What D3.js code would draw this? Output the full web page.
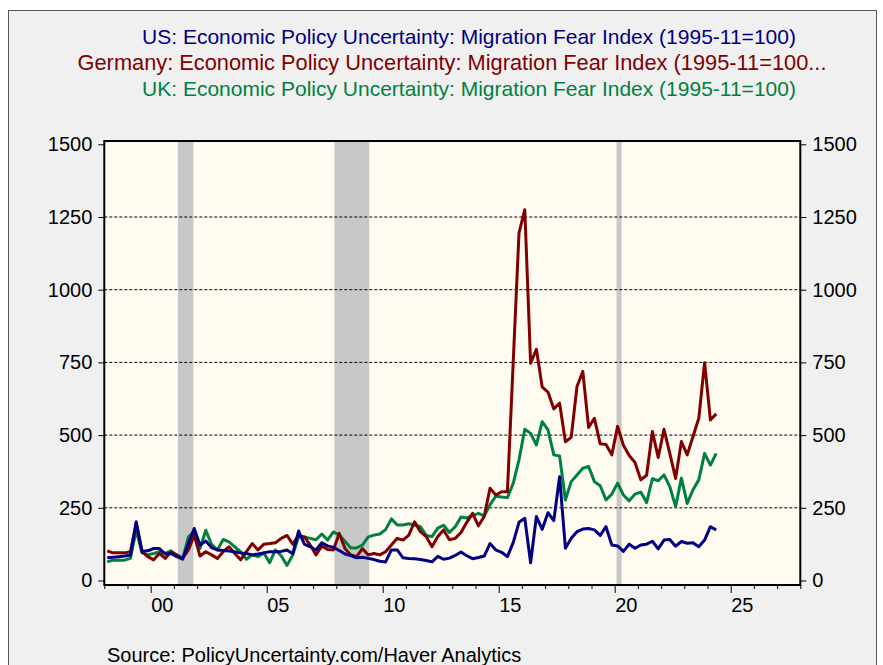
<!DOCTYPE html>
<html>
<head>
<meta charset="utf-8">
<script src="https://cdn.jsdelivr.net/npm/d3@7"></script>
<style>
  body { margin: 0; background: #ffffff; }
  svg { display: block; }
</style>
</head>
<body>
<script>
const [svgWidth, svgHeight] = [883, 665]

// quarterly data, 1998Q1 .. 2024Q2
const firstYear = 1998
const usValues = [
  78, 80, 82, 84, 87, 202, 101, 102, 110, 110, 91, 93, 82, 74, 127, 179,
  122, 136, 113, 105, 103, 101, 99, 95, 93, 88, 91, 95, 99, 99, 100, 105,
  92, 170, 125, 116, 105, 130, 119, 114, 103, 91, 86, 78, 80, 76, 72, 66,
  64, 105, 105, 78, 76, 75, 72, 69, 64, 83, 73, 77, 86, 98, 85, 75,
  79, 84, 127, 105, 97, 82, 130, 200, 214, 61, 220, 176, 233, 206, 357, 111,
  145, 168, 177, 179, 174, 155, 185, 122, 119, 100, 125, 111, 122, 125, 135, 109,
  139, 141, 118, 134, 128, 130, 116, 139, 185, 174
]
const germanyValues = [
  102, 95, 95, 95, 99, 195, 99, 82, 71, 93, 76, 99, 88, 76, 105, 156,
  84, 99, 88, 76, 99, 116, 93, 71, 99, 127, 105, 125, 127, 130, 145, 155,
  125, 155, 150, 122, 88, 118, 107, 105, 162, 110, 88, 82, 110, 88, 93, 88,
  99, 122, 145, 139, 156, 202, 168, 151, 116, 151, 174, 140, 145, 165, 200, 231,
  188, 220, 317, 294, 305, 305, 750, 1195, 1275, 747, 795, 665, 648, 590, 610, 477,
  492, 667, 719, 526, 558, 470, 468, 432, 530, 465, 430, 406, 346, 362, 512, 423,
  520, 437, 351, 478, 432, 495, 558, 749, 552, 573
]
const ukValues = [
  64, 70, 70, 70, 76, 173, 95, 88, 93, 99, 93, 102, 84, 73, 150, 168,
  110, 173, 124, 105, 141, 133, 116, 99, 73, 88, 82, 95, 61, 105, 85, 52,
  88, 150, 150, 145, 140, 160, 139, 167, 156, 135, 112, 112, 122, 150, 156, 160,
  175, 212, 191, 191, 195, 191, 185, 155, 151, 180, 190, 165, 185, 218, 215, 223,
  231, 222, 260, 290, 287, 285, 334, 415, 520, 506, 466, 546, 518, 432, 428, 277,
  340, 363, 386, 392, 340, 326, 277, 297, 335, 294, 274, 297, 304, 268, 350, 343,
  363, 323, 254, 352, 265, 312, 346, 437, 397, 437
]

// recessions (start, end in decimal years)
const recessions = [[2001.17, 2001.84], [2007.92, 2009.42], [2020.08, 2020.3]]

const yTicks = [0, 250, 500, 750, 1000, 1250, 1500]
const xMajor = [2000, 2005, 2010, 2015, 2020, 2025]
const xLabels = ["00", "05", "10", "15", "20", "25"]

const titles = [
  { text: "US: Economic Policy Uncertainty: Migration Fear Index (1995-11=100)", color: "#000080", cx: 469 },
  { text: "Germany: Economic Policy Uncertainty: Migration Fear Index (1995-11=100...", color: "#800000", cx: 452 },
  { text: "UK: Economic Policy Uncertainty: Migration Fear Index (1995-11=100)", color: "#008040", cx: 469 }
]

const frame = { left: 104.3, right: 800.3, top: 141, bottom: 585 }
const font = "'Liberation Sans', Arial, sans-serif"

const x = d3.scaleLinear().domain([1998, 2028]).range([frame.left, frame.right])
const y = d3.scaleLinear().domain([0, 1500]).range([580.5, 144.3])

const svg = d3.select('body')
  .append('svg')
  .attr("width", svgWidth)
  .attr("height", svgHeight)

// panel background
svg.append("rect")
  .attr("x", 8.5).attr("y", 10.5)
  .attr("width", 868).attr("height", svgHeight)
  .attr("fill", "#f0f0f0")
  .attr("stroke", "#555")

// titles
svg.selectAll("text.title")
  .data(titles)
  .enter()
  .append("text")
    .attr("class", "title")
    .attr("x", d => d.cx)
    .attr("y", (d, i) => 44 + i * 26)
    .attr("text-anchor", "middle")
    .attr("font-family", font)
    .attr("font-size", (d, i) => i === 1 ? "21.8px" : "21px")
    .attr("fill", d => d.color)
    .text(d => d.text)

// plot area
svg.append("rect")
  .attr("x", frame.left).attr("y", frame.top)
  .attr("width", frame.right - frame.left)
  .attr("height", frame.bottom - frame.top)
  .attr("fill", "#fffbf0")

// recession shading
svg.selectAll("rect.rec")
  .data(recessions)
  .enter()
  .append("rect")
    .attr("class", "rec")
    .attr("x", d => x(d[0]))
    .attr("y", frame.top)
    .attr("width", d => x(d[1]) - x(d[0]))
    .attr("height", frame.bottom - frame.top)
    .attr("fill", "#c8c8c8")

// dashed grid
svg.selectAll("line.grid")
  .data(yTicks.filter(d => d > 0 && d < 1500))
  .enter()
  .append("line")
    .attr("class", "grid")
    .attr("x1", frame.left).attr("x2", frame.right)
    .attr("y1", d => y(d)).attr("y2", d => y(d))
    .attr("stroke", "#000")
    .attr("stroke-width", 1)
    .attr("stroke-dasharray", "3,2")

// series lines
const series = [
  { values: ukValues, color: "#008040" },
  { values: germanyValues, color: "#800000" },
  { values: usValues, color: "#000080" }
]
const line = d3.line()
  .x((d, i) => x(firstYear + (i + 0.5) / 4))
  .y(d => y(d))

svg.selectAll("path.series")
  .data(series)
  .enter()
  .append("path")
    .attr("class", "series")
    .attr("d", d => line(d.values))
    .attr("fill", "none")
    .attr("stroke", d => d.color)
    .attr("stroke-width", 3)
    .attr("stroke-linejoin", "round")

// frame
svg.append("rect")
  .attr("x", frame.left).attr("y", frame.top)
  .attr("width", frame.right - frame.left)
  .attr("height", frame.bottom - frame.top)
  .attr("fill", "none")
  .attr("stroke", "#000")
  .attr("stroke-width", 2)

// y axes, left and right
const yLeft = svg.append("g")
  .attr("transform", `translate(${frame.left},0)`)
  .call(d3.axisLeft(y).tickValues(yTicks).tickSize(6).tickPadding(6).tickFormat(d3.format("d")))
const yRight = svg.append("g")
  .attr("transform", `translate(${frame.right},0)`)
  .call(d3.axisRight(y).tickValues(yTicks).tickSize(6).tickPadding(6).tickFormat(d3.format("d")))

// x axis: yearly minor ticks, labels centred in the year
const xAxis = svg.append("g")
  .attr("transform", `translate(0,${frame.bottom})`)
  .call(d3.axisBottom(x).tickValues(d3.range(1998, 2029)).tickSize(4).tickFormat(""))
xAxis.selectAll(".tick line")
  .attr("y2", d => xMajor.includes(d) ? 8 : 4)

svg.selectAll("text.xlab")
  .data(xMajor)
  .enter()
  .append("text")
    .attr("class", "xlab")
    .attr("x", d => x(d + 0.5))
    .attr("y", 612)
    .attr("text-anchor", "middle")
    .attr("font-family", font)
    .attr("font-size", "20px")
    .attr("fill", "#000")
    .text((d, i) => xLabels[i])

for (const g of [yLeft, yRight, xAxis]) {
  g.select(".domain").remove()
  g.selectAll(".tick line").attr("stroke", "#000")
  g.selectAll("text")
    .attr("font-family", font)
    .attr("font-size", "20px")
    .attr("fill", "#000")
}

// source note
svg.append("text")
  .attr("x", 107)
  .attr("y", 662)
  .attr("font-family", font)
  .attr("font-size", "20px")
  .attr("fill", "#000")
  .text("Source:  PolicyUncertainty.com/Haver Analytics")
</script>
</body>
</html>
